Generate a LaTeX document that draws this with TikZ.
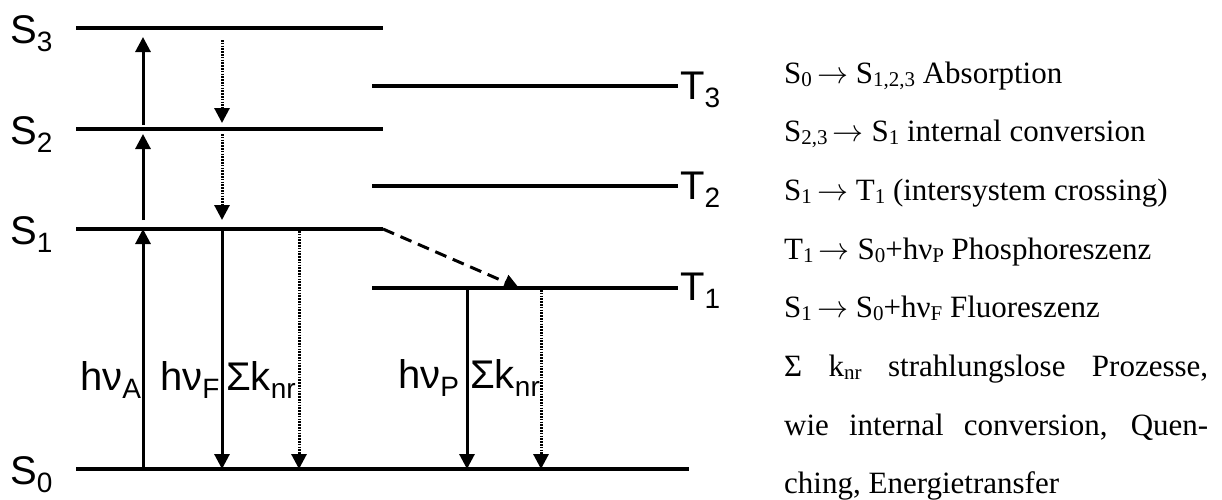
\RequirePackage{fix-cm}
\documentclass[tikz,border=0pt]{standalone}
\usepackage{fontspec}
\setmainfont{Liberation Serif}
\newfontfamily\arialf{Liberation Sans}
\usetikzlibrary{arrows.meta}
\newcommand\lvsub[2]{#1\raisebox{-8pt}{\fontsize{28}{28}\selectfont #2}}
\newcommand\tsub[1]{\raisebox{-3pt}{\fontsize{21}{21}\selectfont #1}}
\newcommand\rarr{\,$\rightarrow$ }
\begin{document}
\begin{tikzpicture}[x=1pt,y=-1pt,
  level/.style={line width=3.4pt},
  rad/.style={line width=3pt,-{Triangle[width=15pt,length=15pt]}},
  nonrad/.style={line width=3pt,dash pattern=on 1.6pt off 1.2pt,-{Triangle[width=15pt,length=15pt]}},
  isc/.style={line width=3pt,dash pattern=on 12pt off 7pt,-{Triangle[width=15pt,length=15pt]}},
  lbl/.style={font=\arialf\fontsize{40}{40}\selectfont,inner sep=0pt,anchor=base west},
  txt/.style={font=\fontsize{31}{31}\selectfont,inner sep=0pt,anchor=base west}]
\useasboundingbox (0,0) rectangle (1222,499);
% level end points
\coordinate (S3a) at (76,28);  \coordinate (S3b) at (383,28);
\coordinate (S2a) at (76,129); \coordinate (S2b) at (383,129);
\coordinate (S1a) at (76,229); \coordinate (S1b) at (383,229);
\coordinate (S0a) at (76,469); \coordinate (S0b) at (689,469);
\coordinate (T3a) at (372,86);  \coordinate (T3b) at (678,86);
\coordinate (T2a) at (372,186); \coordinate (T2b) at (678,186);
\coordinate (T1a) at (372,288); \coordinate (T1b) at (678,288);
\foreach \l in {S3,S2,S1,S0,T3,T2,T1} \draw[level] (\l a) -- (\l b);
% level labels
\node[lbl] (lS3) at (10,43)  {\lvsub{S}{3}};
\node[lbl] (lS2) at (10,144) {\lvsub{S}{2}};
\node[lbl] (lS1) at (10,244) {\lvsub{S}{1}};
\node[lbl] (lS0) at (10,484) {\lvsub{S}{0}};
\node[lbl] (lT3) at (680,99)  {\lvsub{T}{3}};
\node[lbl] (lT2) at (680,199) {\lvsub{T}{2}};
\node[lbl] (lT1) at (680,300) {\lvsub{T}{1}};
% arrow end points
\coordinate (aA0) at (143,469); \coordinate (aA1) at (143,229);
\coordinate (a12s) at (143,220); \coordinate (a12e) at (143,134);
\coordinate (a23s) at (143,125); \coordinate (a23e) at (143,37);
\coordinate (ic3s) at (222,40);  \coordinate (ic3e) at (222,123);
\coordinate (ic2s) at (222,134); \coordinate (ic2e) at (222,220);
\coordinate (F1) at (222,229); \coordinate (F0) at (222,469);
\coordinate (K1) at (299,231); \coordinate (K0) at (299,469);
\coordinate (P1) at (467,288); \coordinate (P0) at (467,469);
\coordinate (Q1) at (541,290); \coordinate (Q0) at (541,469);
\coordinate (iscE) at (519,288);
\draw[rad] (aA0) -- (aA1);
\draw[rad] (a12s) -- (a12e);
\draw[rad] (a23s) -- (a23e);
\draw[nonrad] (ic3s) -- (ic3e);
\draw[nonrad] (ic2s) -- (ic2e);
\draw[rad] (F1) -- (F0);
\draw[nonrad] (K1) -- (K0);
\draw[rad] (P1) -- (P0);
\draw[nonrad] (Q1) -- (Q0);
\draw[isc] (S1b) -- (iscE);
% transition labels
\node[lbl] (hA) at (80,390)  {h\lvsub{ν}{A}};
\node[lbl] (hF) at (160,390) {h\lvsub{ν}{F}};
\node[lbl] (kS) at (226,390) {Σ\lvsub{k}{nr}};
\node[lbl] (hP) at (398,388) {h\lvsub{ν}{P}};
\node[lbl] (kT) at (470,388) {Σ\lvsub{k}{nr}};
% legend text
\node[txt] (t1) at (784,83)    {S\tsub{0}\rarr S\tsub{1,2,3} Absorption};
\node[txt] (t2) at (784,141.7) {S\tsub{2,3}\rarr S\tsub{1} internal conversion};
\node[txt] (t3) at (784,200.4) {S\tsub{1}\rarr T\tsub{1} (intersystem crossing)};
\node[txt] (t4) at (784,259.1) {T\tsub{1}\rarr S\tsub{0}+hν\tsub{P} Phosphoreszenz};
\node[txt] (t5) at (784,317.8) {S\tsub{1}\rarr S\tsub{0}+hν\tsub{F} Fluoreszenz};
\node[txt] (t6) at (784,376.5) {\makebox[424pt][s]{Σ k\tsub{nr} strahlungslose Prozesse,}};
\node[txt] (t7) at (784,435.2) {\makebox[424pt][s]{wie internal conversion, Quen-}};
\node[txt] (t8) at (784,493.9) {ching, Energietransfer};
\end{tikzpicture}
\end{document}
